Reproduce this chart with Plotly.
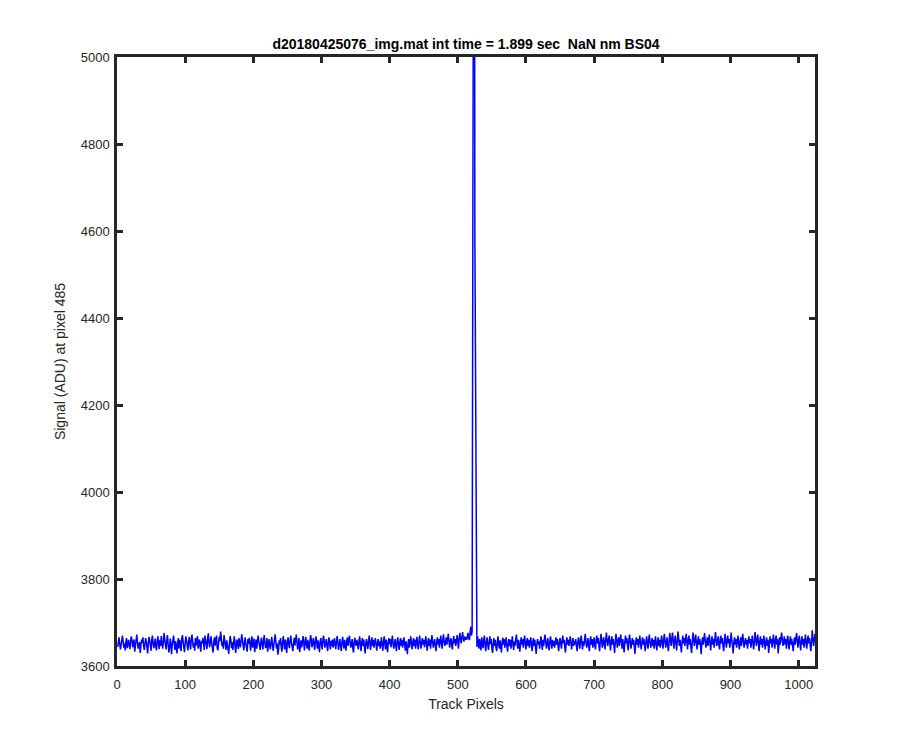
import plotly.graph_objects as go

# Signal at pixel 485 along track (index 1..1024)
signal = [
3644,3658,3666,3650,3638,3648,3662,3670,3656,3642,3652,3636,3655,3664,3641,3653,3660,3647,3639,3657,3668,3659,3643,3652,3661,3633,3648,3662,3672,3654,3640,3649,
3655,3630,3642,3661,3653,3666,3647,3637,3651,3664,3656,3640,3629,3654,3667,3658,3646,3635,3661,3670,3652,3641,3650,3663,3644,3636,3657,3668,3651,3639,3660,3646,
3669,3658,3640,3653,3676,3662,3645,3638,3659,3671,3650,3631,3642,3663,3654,3627,3648,3666,3670,3651,3637,3657,3644,3629,3653,3664,3640,3660,3649,3634,3663,3671,
3656,3643,3632,3652,3668,3659,3645,3636,3655,3667,3650,3638,3662,3672,3657,3642,3653,3635,3664,3647,3656,3669,3640,3651,3661,3644,3633,3658,3652,3665,3646,3637,
3670,3658,3650,3639,3664,3675,3653,3643,3659,3668,3651,3637,3631,3656,3666,3647,3662,3670,3641,3636,3652,3667,3657,3679,3666,3646,3656,3640,3671,3661,3649,3637,
3659,3646,3636,3628,3652,3669,3660,3641,3655,3637,3650,3668,3656,3630,3644,3661,3654,3639,3664,3652,3643,3658,3673,3660,3646,3636,3655,3666,3650,3641,3633,3662,
3651,3665,3646,3635,3657,3668,3642,3654,3663,3632,3650,3661,3640,3653,3670,3657,3647,3637,3655,3665,3649,3638,3659,3671,3653,3641,3648,3664,3633,3652,3662,3646,
3638,3654,3667,3650,3635,3647,3661,3673,3657,3640,3652,3626,3637,3659,3650,3664,3642,3633,3655,3669,3651,3638,3661,3647,3630,3657,3666,3649,3641,3659,3670,3653,
3642,3634,3652,3665,3647,3660,3672,3656,3638,3650,3664,3632,3646,3659,3643,3654,3669,3652,3636,3657,3667,3649,3640,3660,3646,3635,3655,3671,3661,3643,3651,3664,
3650,3637,3657,3668,3652,3640,3659,3646,3632,3655,3664,3650,3638,3660,3670,3656,3642,3652,3662,3647,3634,3655,3666,3651,3638,3658,3646,3661,3642,3652,3664,3649,
3639,3657,3669,3654,3637,3649,3662,3646,3634,3654,3667,3652,3640,3660,3649,3635,3657,3666,3646,3660,3670,3654,3642,3652,3662,3640,3631,3655,3665,3650,3647,3660,
3652,3638,3657,3668,3649,3634,3655,3664,3646,3661,3642,3629,3652,3662,3650,3639,3657,3670,3652,3637,3655,3666,3646,3660,3642,3655,3664,3650,3635,3652,3662,3646,
3657,3640,3652,3666,3647,3635,3655,3668,3652,3638,3661,3646,3632,3655,3664,3650,3662,3643,3657,3670,3652,3640,3650,3662,3646,3634,3657,3666,3649,3637,3655,3664,
3646,3660,3642,3655,3666,3650,3635,3657,3646,3627,3652,3662,3642,3657,3668,3650,3638,3655,3664,3646,3661,3640,3652,3667,3649,3638,3657,3670,3652,3640,3655,3664,
3649,3660,3643,3657,3668,3652,3635,3655,3664,3646,3661,3640,3652,3671,3657,3642,3652,3662,3646,3634,3655,3666,3649,3662,3642,3657,3670,3652,3640,3660,3673,3656,
3646,3655,3666,3649,3662,3674,3658,3642,3655,3664,3649,3638,3657,3669,3652,3662,3646,3660,3671,3654,3640,3664,3676,3662,3652,3665,3678,3664,3656,3668,3660,3666,
3660,3668,3676,3664,3660,3678,3690,3670,3680,4564,5900,6200,4596,4244,3676,3644,3668,3656,3640,3662,3650,3636,3666,3654,3641,3660,3670,3646,3634,3656,3666,3649,
3637,3654,3668,3650,3662,3640,3630,3652,3664,3646,3660,3642,3634,3656,3668,3649,3640,3659,3646,3631,3655,3665,3649,3662,3642,3655,3666,3646,3633,3652,3662,3646,
3660,3640,3655,3668,3649,3637,3657,3646,3662,3672,3652,3640,3660,3646,3633,3655,3666,3649,3662,3642,3657,3670,3652,3638,3655,3664,3646,3660,3642,3652,3666,3649,
3634,3655,3664,3646,3660,3642,3628,3652,3662,3649,3657,3640,3655,3668,3652,3637,3660,3646,3662,3672,3655,3640,3652,3664,3646,3636,3657,3668,3652,3640,3660,3646,
3657,3642,3655,3666,3649,3662,3646,3634,3655,3664,3652,3640,3657,3670,3652,3660,3642,3631,3655,3666,3649,3660,3646,3657,3668,3652,3638,3655,3664,3646,3657,3649,
3662,3646,3634,3655,3666,3652,3640,3660,3670,3652,3638,3657,3646,3662,3674,3655,3642,3652,3664,3646,3634,3657,3668,3649,3662,3642,3655,3666,3646,3638,3660,3670,
3652,3664,3646,3634,3657,3674,3660,3642,3655,3666,3649,3638,3662,3677,3657,3646,3660,3670,3652,3636,3657,3668,3649,3662,3646,3630,3655,3674,3660,3642,3657,3666,
3646,3660,3672,3655,3640,3662,3646,3631,3655,3670,3652,3664,3646,3636,3660,3672,3655,3640,3652,3664,3649,3660,3642,3628,3655,3666,3649,3662,3642,3657,3670,3652,
3638,3655,3666,3649,3662,3646,3634,3657,3668,3652,3640,3660,3672,3655,3642,3652,3664,3646,3660,3640,3655,3668,3649,3636,3657,3666,3646,3660,3642,3655,3670,3652,
3640,3660,3674,3657,3642,3655,3666,3646,3634,3657,3676,3660,3646,3664,3677,3655,3640,3660,3670,3652,3636,3657,3679,3664,3646,3660,3642,3631,3655,3670,3652,3664,
3646,3660,3674,3655,3638,3660,3670,3649,3662,3642,3630,3655,3677,3662,3646,3660,3672,3652,3638,3657,3668,3649,3662,3646,3627,3655,3666,3649,3662,3676,3657,3642,
3655,3666,3646,3660,3672,3652,3636,3657,3668,3649,3662,3642,3655,3678,3660,3646,3657,3668,3649,3638,3660,3670,3652,3664,3646,3634,3657,3674,3655,3642,3660,3670,
3652,3662,3642,3657,3677,3660,3646,3629,3655,3666,3649,3662,3642,3657,3670,3652,3638,3655,3666,3646,3660,3674,3657,3642,3655,3664,3649,3660,3640,3655,3668,3652,
3662,3642,3657,3670,3652,3638,3655,3678,3662,3646,3660,3672,3652,3634,3657,3668,3649,3662,3642,3655,3670,3652,3638,3657,3666,3646,3660,3630,3655,3668,3652,3662,
3642,3657,3672,3655,3640,3660,3670,3649,3662,3629,3655,3666,3649,3660,3677,3662,3646,3657,3668,3649,3662,3640,3655,3670,3652,3638,3657,3668,3649,3662,3646,3634,
3655,3666,3649,3662,3676,3657,3642,3660,3670,3652,3636,3657,3668,3649,3662,3642,3657,3672,3652,3640,3660,3670,3652,3664,3646,3634,3657,3682,3662,3646,3660,3674,
]
assert len(signal) == 1024, len(signal)
pixels = list(range(1, len(signal) + 1))

x_ticks = [0, 100, 200, 300, 400, 500, 600, 700, 800, 900, 1000]
y_ticks = [3600, 3800, 4000, 4200, 4400, 4600, 4800, 5000]

title_text = "d20180425076_img.mat int time = 1.899 sec\u00a0 NaN nm BS04"

FONT = "Liberation Sans, Arial, Helvetica, sans-serif"
DARK = "#262626"

fig = go.Figure()
fig.add_trace(go.Scatter(
    x=pixels, y=signal, mode="lines",
    line=dict(color="#0000FF", width=1.5),
    showlegend=False, hoverinfo="x+y",
))

axis_common = dict(
    showgrid=False, zeroline=False,
    showline=True, linecolor=DARK, linewidth=2.5, mirror="ticks",
    ticks="inside", ticklen=6, tickwidth=2.5, tickcolor=DARK,
    tickfont=dict(family=FONT, size=13, color=DARK),
)

fig.update_layout(
    width=900, height=750,
    paper_bgcolor="white", plot_bgcolor="white",
    margin=dict(l=109, r=93, t=49, b=92),
    font=dict(family=FONT, size=14, color=DARK),
    title=dict(
        text="<b>" + title_text + "</b>",
        x=0.5, xref="paper", xanchor="center",
        y=1 - 36 / 750, yref="container", yanchor="middle",
        font=dict(family=FONT, size=14, color="#000000"),
    ),
    xaxis=dict(
        range=[0, 1024], tickvals=x_ticks, ticklabelstandoff=5,
        title=dict(text="Track Pixels", standoff=8,
                   font=dict(family=FONT, size=14, color=DARK)),
        **axis_common,
    ),
    yaxis=dict(
        range=[3600, 5000], tickvals=y_ticks, ticklabelstandoff=2,
        title=dict(text="Signal (ADU) at pixel 485", standoff=12,
                   font=dict(family=FONT, size=14, color=DARK)),
        **axis_common,
    ),
)

fig.write_html("out.html")
